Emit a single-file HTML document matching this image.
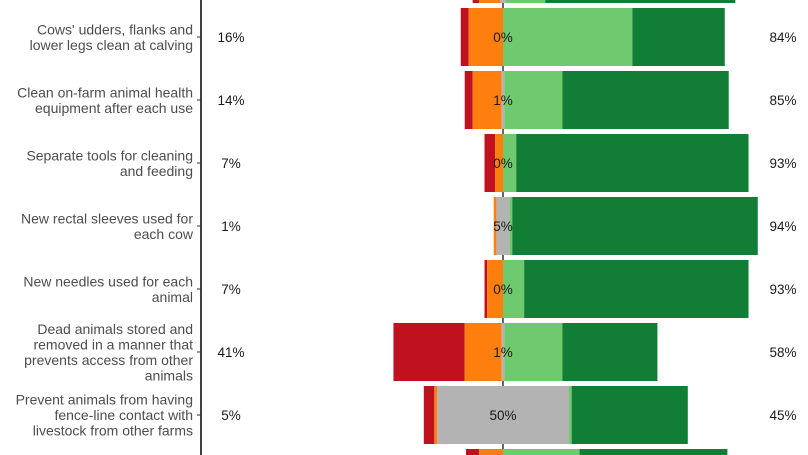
<!DOCTYPE html>
<html><head><meta charset="utf-8"><style>
html,body{margin:0;padding:0;background:#fff;width:808px;height:455px;overflow:hidden}
svg{display:block;font-family:"Liberation Sans",Arial,sans-serif}
</style></head><body>
<svg id="chart" width="808" height="455" viewBox="0 0 808 455" xmlns="http://www.w3.org/2000/svg"></svg>
<script>
const categories = [
  "(previous item)",
  "Cows' udders, flanks and|lower legs clean at calving",
  "Clean on-farm animal health|equipment after each use",
  "Separate tools for cleaning|and feeding",
  "New rectal sleeves used for|each cow",
  "New needles used for each|animal",
  "Dead animals stored and|removed in a manner that|prevents access from other|animals",
  "Prevent animals from having|fence-line contact with|livestock from other farms",
  "(next item)"
];
const stronglyDisagree = [2.5, 3, 3, 4, 0, 1, 27, 4, 5];
const disagree =         [8, 13, 11, 3, 1, 6, 14, 1, 9];
const neutral =          [2, 0, 1, 0, 5, 0, 1, 50, 0];
const agree =            [15, 49, 22, 5, 1, 8, 22, 1, 29];
const stronglyAgree =    [72, 35, 63, 88, 93, 85, 36, 44, 56];
const leftLabels =  ["", "16%", "14%", "7%", "1%", "7%", "41%", "5%", ""];
const midLabels =   ["", "0%", "1%", "0%", "5%", "0%", "1%", "50%", ""];
const rightLabels = ["", "84%", "85%", "93%", "94%", "93%", "58%", "45%", ""];

const colors = ["#c0111f", "#ff7f0e", "#b3b3b3", "#6fc96e", "#127e35"];
const segNames = ["strongly-disagree", "disagree", "neutral", "agree", "strongly-agree"];
const svg = document.getElementById('chart');
const NS = "http://www.w3.org/2000/svg";
const CENTER = 503, PX = 2.64, ROW0 = -26, ROWSTEP = 63, BARH = 58, H = 455;
const xScale = v => CENTER + v * PX;
const yCenter = i => ROW0 + i * ROWSTEP;

function mk(tag, attrs) { const e = document.createElementNS(NS, tag); for (const k in attrs) e.setAttribute(k, attrs[k]); svg.appendChild(e); return e; }

const cl = mk('line', {x1: CENTER, x2: CENTER, y1: 0, y2: H, stroke: '#000', 'stroke-width': 1.2});


const ax = mk('line', {x1: 201, x2: 201, y1: 0, y2: H, stroke: '#000', 'stroke-width': 1.5});



categories.forEach((cat, i) => {
  const yc = yCenter(i);
  const vals = [stronglyDisagree[i], disagree[i], neutral[i], agree[i], stronglyAgree[i]];
  let start = -(vals[0] + vals[1] + vals[2] / 2);
  const y0 = Math.max(0, yc - BARH / 2), y1 = Math.min(H, yc + BARH / 2);
  vals.forEach((v, s) => {
    if (v <= 0) return;
    const r = mk('rect', {x: xScale(start), y: y0, width: v * PX, height: y1 - y0, fill: colors[s]});
    
    
    start += v;
  });
  if (yc < 0 || yc > H) return;
  const tk = mk('line', {x1: 197, x2: 201, y1: yc, y2: yc, stroke: '#333', 'stroke-width': 1});
  
  
  if (cat.charAt(0) !== '(') {
    const lines = cat.split('|');
    const t = mk('text', {x: 193, 'text-anchor': 'end', 'font-size': 14, fill: '#4d4d4d'});
    
    
    lines.forEach((ln, j) => {
      const ts = document.createElementNS(NS, 'tspan');
      ts.setAttribute('x', 193);
      ts.setAttribute('y', yc + 5 + (j - (lines.length - 1) / 2) * 15.5);
      ts.textContent = ln;
      t.appendChild(ts);
    });
  }
  const lbls = [[231, leftLabels[i], 'left-percent'], [CENTER, midLabels[i], 'neutral-percent'], [783, rightLabels[i], 'right-percent']];
  lbls.forEach(([x, txt, nm]) => {
    if (!txt) return;
    const t = mk('text', {x: x, y: yc + 5, 'text-anchor': 'middle', 'font-size': 13.5, fill: '#1a1a1a'});
    
    
    t.textContent = txt;
  });
});
</script>
</body></html>
